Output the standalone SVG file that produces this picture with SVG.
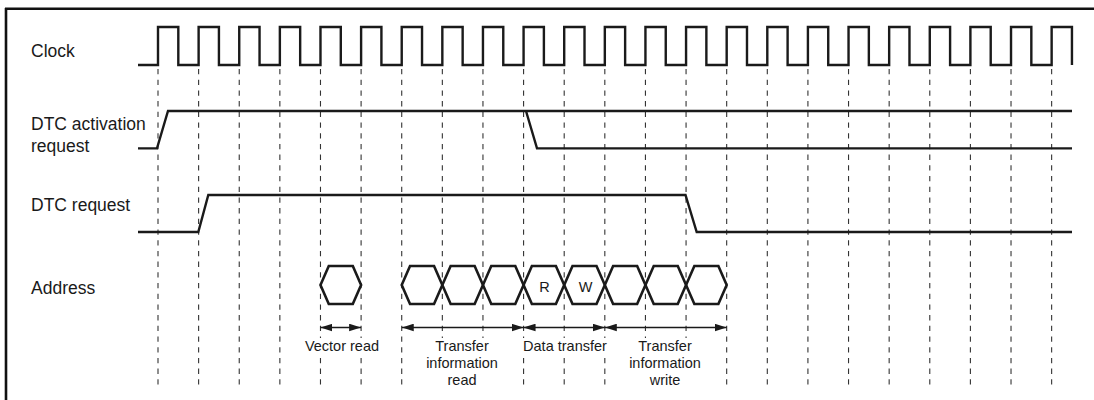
<svg xmlns="http://www.w3.org/2000/svg" width="1094" height="400" viewBox="0 0 1094 400">
<defs>
<style>
.frame{stroke:#111;stroke-width:2.6;fill:none}
.sig{stroke:#1a1a1a;stroke-width:2.4;fill:none;stroke-linejoin:miter}
.grid{stroke:#333;stroke-width:1.1;fill:none;stroke-dasharray:5.3 5.4}
.hex{stroke:#1a1a1a;stroke-width:2.6;fill:none;stroke-linejoin:miter}
.lbl{font-family:"Liberation Sans",Arial,sans-serif;font-size:17.5px;fill:#1a1a1a}
.sm{font-family:"Liberation Sans",Arial,sans-serif;font-size:14.5px;fill:#1a1a1a;text-anchor:middle}
.bg{fill:#fff;stroke:none}
.arr{stroke:#1a1a1a;stroke-width:1.4;fill:none;marker-start:url(#ah);marker-end:url(#ah)}
</style>
<marker id="ah" viewBox="0 -4 12 8" refX="12" refY="0" markerWidth="12" markerHeight="8" markerUnits="userSpaceOnUse" orient="auto-start-reverse">
<path d="M0,-3.8 L12,0 L0,3.8 z" fill="#1a1a1a"/>
</marker>
</defs>
<rect width="1094" height="400" fill="#fff"/>
<g id="frame">
<path class="frame" d="M5,8.7 H1094 M6,8 V400"/>
</g>
<g id="grid">
<path class="grid" d="M158,69 V385 M198.62,69 V385 M239.24,69 V385 M279.86,69 V385 M320.48,69 V385 M361.1,69 V385 M401.72,69 V385 M442.34,69 V385 M482.96,69 V385 M523.58,69 V385 M564.2,69 V385 M604.82,69 V385 M645.44,69 V385 M686.06,69 V385 M726.68,69 V385 M767.3,69 V385 M807.92,69 V385 M848.54,69 V385 M889.16,69 V385 M929.78,69 V385 M970.4,69 V385 M1011.02,69 V385 M1051.64,69 V385"/>
</g>
<g id="clock">
<text class="lbl" x="31" y="57">Clock</text>
<path class="sig" d="M138,65 H158 V27 H178.31 V65 H198.62 V27 H218.93 V65 H239.24 V27 H259.55 V65 H279.86 V27 H300.17 V65 H320.48 V27 H340.79 V65 H361.1 V27 H381.41 V65 H401.72 V27 H422.03 V65 H442.34 V27 H462.65 V65 H482.96 V27 H503.27 V65 H523.58 V27 H543.89 V65 H564.2 V27 H584.51 V65 H604.82 V27 H625.13 V65 H645.44 V27 H665.75 V65 H686.06 V27 H706.37 V65 H726.68 V27 H746.99 V65 H767.3 V27 H787.61 V65 H807.92 V27 H828.23 V65 H848.54 V27 H868.85 V65 H889.16 V27 H909.47 V65 H929.78 V27 H950.09 V65 H970.4 V27 H990.71 V65 H1011.02 V27 H1031.33 V65 H1051.64 V27 H1071.95 V65"/>
</g>
<g id="dtc-activation-request">
<text class="lbl" x="31" y="130">DTC activation</text>
<text class="lbl" x="31" y="152">request</text>
<path class="sig" d="M138,148.4 H157 L168,111 H1072 M526,111 L537,148.4 H1072"/>
</g>
<g id="dtc-request">
<text class="lbl" x="31" y="211">DTC request</text>
<path class="sig" d="M138,232 H198.3 L208.3,195 H685.5 L696.7,232 H1072"/>
</g>
<g id="address">
<text class="lbl" x="31" y="293.5">Address</text>
<polygon class="hex" points="320.48,285 328.78,266 352.8,266 361.1,285 352.8,304 328.78,304"/>
<polygon class="hex" points="401.72,285 410.02,266 434.04,266 442.34,285 434.04,304 410.02,304"/>
<polygon class="hex" points="442.34,285 450.64,266 474.66,266 482.96,285 474.66,304 450.64,304"/>
<polygon class="hex" points="482.96,285 491.26,266 515.28,266 523.58,285 515.28,304 491.26,304"/>
<polygon class="hex" points="523.58,285 531.88,266 555.9,266 564.2,285 555.9,304 531.88,304"/>
<polygon class="hex" points="564.2,285 572.5,266 596.52,266 604.82,285 596.52,304 572.5,304"/>
<polygon class="hex" points="604.82,285 613.12,266 637.14,266 645.44,285 637.14,304 613.12,304"/>
<polygon class="hex" points="645.44,285 653.74,266 677.76,266 686.06,285 677.76,304 653.74,304"/>
<polygon class="hex" points="686.06,285 694.36,266 718.38,266 726.68,285 718.38,304 694.36,304"/>
<text class="sm" x="544.5" y="292" font-size="14">R</text>
<text class="sm" x="585.5" y="292" font-size="14">W</text>
</g>
<g id="connectors">
<line class="arr" x1="320.48" y1="327.5" x2="361.1" y2="327.5"/>
<line class="arr" x1="401.72" y1="327.5" x2="523.58" y2="327.5"/>
<line class="arr" x1="523.58" y1="327.5" x2="604.82" y2="327.5"/>
<line class="arr" x1="604.82" y1="327.5" x2="726.68" y2="327.5"/>
</g>
<g id="phase-labels">
<rect class="bg" x="303" y="338" width="78" height="17"/>
<rect class="bg" x="423" y="338" width="78" height="52"/>
<rect class="bg" x="520" y="338" width="89" height="17"/>
<rect class="bg" x="626" y="338" width="78" height="52"/>
<text class="sm" x="342" y="350.7">Vector read</text>
<text class="sm" x="462" y="350.7">Transfer</text>
<text class="sm" x="462" y="367.5">information</text>
<text class="sm" x="462" y="385">read</text>
<text class="sm" x="565" y="350.7">Data transfer</text>
<text class="sm" x="665" y="350.7">Transfer</text>
<text class="sm" x="665" y="367.5">information</text>
<text class="sm" x="665" y="385">write</text>
</g>
</svg>
